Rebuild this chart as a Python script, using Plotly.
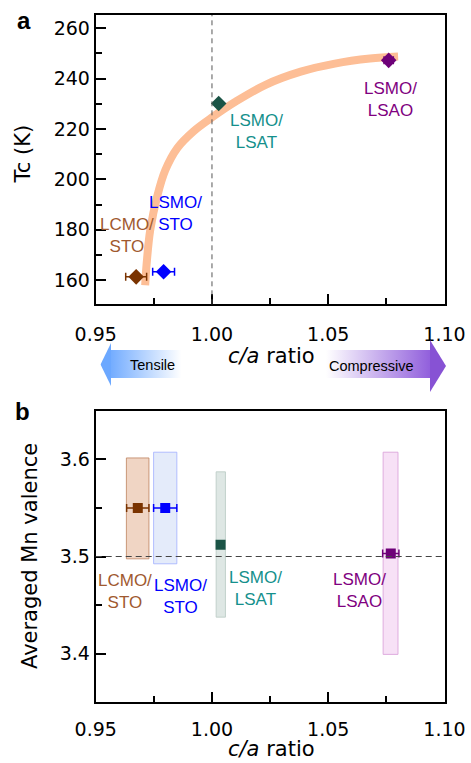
import base64
import plotly.graph_objects as go

# ---------------- data ----------------
samples = ["LCMO/STO", "LSMO/STO", "LSMO/LSAT", "LSMO/LSAO"]
label_text = ["LCMO/<br>STO", "LSMO/<br>STO", "LSMO/<br>LSAT", "LSMO/<br>LSAO"]

# panel a: Tc vs c/a
ca_a = [0.9674, 0.9792, 1.0029, 1.0760]
ca_a_err = [0.0045, 0.0047, 0.0, 0.0020]
tc = [161.3, 163.3, 230.1, 247.2]

# guide-to-the-eye curve
guide_x = [0.97128, 0.97193, 0.97344, 0.97646, 0.97991, 0.98509, 0.99199,
           0.99976, 1.01013, 1.02307, 1.03818, 1.05285, 1.06796, 1.08004]
guide_y = [158.0, 166.7, 179.8, 193.3, 203.6, 212.4, 219.0,
           224.4, 230.8, 237.5, 242.7, 245.9, 247.9, 248.7]

# panel b: Mn valence vs c/a
ca_b = [0.9681, 0.9799, 1.0037, 1.0769]
ca_b_err = [0.0048, 0.0050, 0.0, 0.0035]
valence = [3.550, 3.550, 3.512, 3.503]
band_x0 = [0.9632, 0.9749, 1.0018, 1.0736]
band_x1 = [0.9729, 0.9849, 1.0058, 1.0800]
band_lo = [3.4976, 3.4925, 3.4376, 3.3993]
band_hi = [3.6014, 3.6073, 3.5871, 3.6073]

x_ticks = [0.95, 1.00, 1.05, 1.10]
x_ticktext = ["0.95", "1.00", "1.05", "1.10"]
x_minor = [0.975, 1.025, 1.075]
tc_ticks = [160, 180, 200, 220, 240, 260]
tc_minor = [170, 190, 210, 230, 250]
val_ticks = [3.4, 3.5, 3.6]
val_minor = [3.45, 3.55]

# ---------------- styles ----------------
W, H = 471, 763
marker_col = ["#7a3300", "#0000ff", "#1b5446", "#6e0078"]
label_col = ["#a0592f", "#0000ff", "#15908c", "#800080"]
band_fill = ["rgba(232,190,165,0.65)", "rgba(205,218,245,0.55)",
             "rgba(200,215,210,0.6)", "rgba(240,200,238,0.55)"]
band_line = ["rgba(190,130,95,0.8)", "rgba(160,175,255,0.8)",
             "rgba(190,205,200,0.9)", "rgba(220,165,220,0.9)"]
# label positions (data coords)
lab_a_x = [0.9634, 0.9845, 1.0191, 1.0767]
lab_a_y = [177.7, 186.6, 218.8, 231.5]
lab_b_x = [0.9624, 0.9866, 1.0187, 1.0635]
lab_b_y = [3.4642, 3.4585, 3.4671, 3.4647]

TICKFONT = dict(family="DejaVu Sans", size=19, color="black")
TITLEFONT = dict(family="DejaVu Sans", size=21, color="black")
LABFONT = "Liberation Sans"


def px(x):
    return x / W


def py(y):
    return 1 - y / H


xdom = [px(95.7), px(444.5)]
ydom_a = [py(304.3), py(15)]
ydom_b = [py(702.3), py(410.7)]

fig = go.Figure()

# guide curve
fig.add_trace(go.Scatter(x=guide_x, y=guide_y, mode="lines", line_shape="spline",
                         line=dict(color="#fdbe96", width=8), hoverinfo="skip",
                         showlegend=False, xaxis="x", yaxis="y"))

for i in range(len(samples)):
    fig.add_trace(go.Scatter(
        x=[ca_a[i]], y=[tc[i]], mode="markers", name=samples[i], showlegend=False,
        marker=dict(symbol="diamond", size=12, color=marker_col[i]),
        error_x=dict(type="data", array=[ca_a_err[i]], visible=ca_a_err[i] > 0,
                     color=marker_col[i], thickness=1.5, width=4),
        xaxis="x", yaxis="y"))
    fig.add_trace(go.Scatter(
        x=[ca_b[i]], y=[valence[i]], mode="markers", name=samples[i], showlegend=False,
        marker=dict(symbol="square", size=10, color=marker_col[i]),
        error_x=dict(type="data", array=[ca_b_err[i]], visible=ca_b_err[i] > 0,
                     color=marker_col[i], thickness=1.5, width=4),
        xaxis="x2", yaxis="y2"))

shapes = []
for i in range(len(samples)):
    shapes.append(dict(type="rect", xref="x2", yref="y2", x0=band_x0[i], x1=band_x1[i],
                       y0=band_lo[i], y1=band_hi[i], fillcolor=band_fill[i],
                       line=dict(color=band_line[i], width=1), layer="below"))
shapes.append(dict(type="line", xref="x", yref="y domain", x0=1.0, x1=1.0, y0=0, y1=1,
                   line=dict(color="#555555", width=1, dash="5px,4px"), layer="above"))
shapes.append(dict(type="line", xref="x2 domain", yref="y2", x0=0, x1=1, y0=3.5, y1=3.5,
                   line=dict(color="#444444", width=1.2, dash="6px,4px"), layer="above"))

annotations = []
for i in range(len(samples)):
    annotations.append(dict(x=lab_a_x[i], y=lab_a_y[i], xref="x", yref="y", text=label_text[i],
                            showarrow=False, font=dict(family=LABFONT, size=17, color=label_col[i]),
                            xanchor="center", yanchor="middle"))
    annotations.append(dict(x=lab_b_x[i], y=lab_b_y[i], xref="x2", yref="y2", text=label_text[i],
                            showarrow=False, font=dict(family=LABFONT, size=17, color=label_col[i]),
                            xanchor="center", yanchor="middle"))

# axis titles and panel labels
annotations += [
    dict(x=px(22.5), y=py(154), xref="paper", yref="paper", text="Tc (K)", textangle=-90,
         showarrow=False, font=TITLEFONT, xanchor="center", yanchor="middle"),
    dict(x=px(271), y=py(356), xref="paper", yref="paper", text="<i>c/a</i> ratio",
         showarrow=False, font=TITLEFONT, xanchor="center", yanchor="middle"),
    dict(x=px(29.5), y=py(556.5), xref="paper", yref="paper", text="Averaged Mn valence",
         textangle=-90, showarrow=False, font=TITLEFONT, xanchor="center", yanchor="middle"),
    dict(x=px(271), y=py(749), xref="paper", yref="paper", text="<i>c/a</i> ratio",
         showarrow=False, font=TITLEFONT, xanchor="center", yanchor="middle"),
    dict(x=px(24), y=py(20), xref="paper", yref="paper", text="<b>a</b>",
         showarrow=False, font=dict(family=LABFONT, size=24, color="black"),
         xanchor="center", yanchor="middle"),
    dict(x=px(22), y=py(412), xref="paper", yref="paper", text="<b>b</b>",
         showarrow=False, font=dict(family=LABFONT, size=24, color="black"),
         xanchor="center", yanchor="middle"),
    dict(x=px(152), y=py(365), xref="paper", yref="paper", text="Tensile",
         showarrow=False, font=dict(family=LABFONT, size=14.5, color="black"),
         xanchor="center", yanchor="middle"),
    dict(x=px(371), y=py(366), xref="paper", yref="paper", text="Compressive",
         showarrow=False, font=dict(family=LABFONT, size=14.5, color="black"),
         xanchor="center", yanchor="middle"),
]


def svg_uri(svg):
    return "data:image/svg+xml;base64," + base64.b64encode(svg.encode()).decode()


tensile_svg = (
    '<svg xmlns="http://www.w3.org/2000/svg" width="81" height="43" viewBox="0 0 81 43" '
    'preserveAspectRatio="none"><defs><linearGradient id="g" x1="0" x2="1" y1="0" y2="0">'
    '<stop offset="0" stop-color="rgb(115,172,255)"/><stop offset="1" stop-color="rgb(255,255,255)"/>'
    '</linearGradient></defs>'
    '<rect x="10" y="7" width="71" height="28" fill="url(#g)"/>'
    '<polygon points="0,21.5 10.5,0 10.5,43" fill="rgb(108,168,255)"/></svg>')
compress_svg = (
    '<svg xmlns="http://www.w3.org/2000/svg" width="120" height="52" viewBox="0 0 120 52" '
    'preserveAspectRatio="none"><defs><linearGradient id="g" x1="0" x2="1" y1="0" y2="0">'
    '<stop offset="0" stop-color="rgb(255,255,255)"/><stop offset="1" stop-color="rgb(145,95,220)"/>'
    '</linearGradient></defs>'
    '<rect x="0" y="10" width="104.5" height="28" fill="url(#g)"/>'
    '<polygon points="104,0 120,26 104,52" fill="rgb(135,82,212)"/></svg>')

images = [
    dict(source=svg_uri(tensile_svg), xref="paper", yref="paper", x=px(100.5), y=py(343),
         sizex=81 / W, sizey=43 / H, xanchor="left", yanchor="top", sizing="stretch", layer="above"),
    dict(source=svg_uri(compress_svg), xref="paper", yref="paper", x=px(326), y=py(340),
         sizex=120 / W, sizey=52 / H, xanchor="left", yanchor="top", sizing="stretch", layer="above"),
]

xcommon = dict(range=[0.95, 1.10], tickmode="array", tickvals=x_ticks, ticktext=x_ticktext,
               ticks="inside", ticklen=10, tickwidth=1.5, tickcolor="black",
               minor=dict(tickmode="array", tickvals=x_minor, ticks="inside", ticklen=6,
                          tickwidth=1.5, tickcolor="black"),
               showline=True, linewidth=2, linecolor="black", mirror=True, automargin=False,
               showgrid=False, zeroline=False, tickfont=TICKFONT, domain=xdom, fixedrange=True)
ycommon = dict(ticks="inside", ticklen=10, tickwidth=1.5, tickcolor="black",
               showline=True, linewidth=2, linecolor="black", mirror=True, automargin=False,
               showgrid=False, zeroline=False, tickfont=TICKFONT, fixedrange=True)

fig.update_layout(
    width=W, height=H, margin=dict(l=0, r=0, t=0, b=0, autoexpand=False),
    paper_bgcolor="white", plot_bgcolor="white", showlegend=False,
    xaxis=dict(**xcommon, anchor="y", ticklabelstandoff=12),
    yaxis=dict(**ycommon, domain=ydom_a, range=[150.4, 265.2], tickmode="array",
               tickvals=tc_ticks,
               minor=dict(tickmode="array", tickvals=tc_minor, ticks="inside", ticklen=6,
                          tickwidth=1.5, tickcolor="black"), anchor="x"),
    xaxis2=dict(**xcommon, anchor="y2", ticklabelstandoff=9),
    yaxis2=dict(**ycommon, domain=ydom_b, range=[3.35, 3.65], tickmode="array",
                tickvals=val_ticks, ticktext=["3.4", "3.5", "3.6"],
                minor=dict(tickmode="array", tickvals=val_minor, ticks="inside", ticklen=6,
                           tickwidth=1.5, tickcolor="black"), anchor="x2"),
    shapes=shapes, annotations=annotations, images=images,
)

fig.write_html("out.html")
